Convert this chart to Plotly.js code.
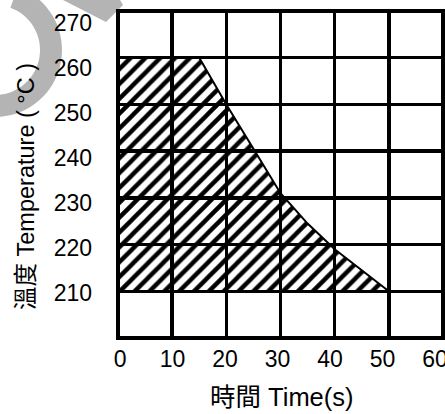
<!DOCTYPE html>
<html>
<head>
<meta charset="utf-8">
<script src="https://cdn.plot.ly/plotly-3.0.1.min.js"></script>
<style>html,body{margin:0;padding:0;background:#fff;}#chart{width:445px;height:414px;}</style>
</head>
<body>
<div id="chart"></div>
<script>
// ---- data ----
const timeS = [0, 0, 15, 20, 25, 30, 35, 40, 45, 50];
const tempC = [210, 260, 260, 250, 240.5, 231, 224.5, 219, 214.5, 210];
const xTicks = [0, 10, 20, 30, 40, 50, 60];
const yTicks = [210, 220, 230, 240, 250, 260, 270];
const xTitle = '時間 Time(s)';
const yTitle = '溫度 Temperature ( °C )';

const W = 445, H = 414;
const M = {l: 118, r: 2, t: 11, b: 76};
const PW = W - M.l - M.r, PH = H - M.t - M.b;
const FONT = 'Arial, "Liberation Sans", "Noto Sans CJK TC", sans-serif';

// pixel -> paper helpers for the decorative grey watermark
const px = x => ((x - M.l) / PW).toFixed(4);
const py = y => ((H - M.b - y) / PH).toFixed(4);
function ringPath(cx, cy, R, r, a0, a1) {
  const pts = [];
  const n = 40;
  for (let i = 0; i <= n; i++) {
    const a = (a0 + (a1 - a0) * i / n) * Math.PI / 180;
    pts.push([cx + R * Math.cos(a), cy + R * Math.sin(a)]);
  }
  for (let i = n; i >= 0; i--) {
    const a = (a0 + (a1 - a0) * i / n) * Math.PI / 180;
    pts.push([cx + r * Math.cos(a), cy + r * Math.sin(a)]);
  }
  return 'M' + pts.map(p => px(p[0]) + ',' + py(p[1])).join('L') + 'Z';
}
function polyPath(pts) {
  return 'M' + pts.map(p => px(p[0]) + ',' + py(p[1])).join('L') + 'Z';
}

const traces = [
  {
    x: timeS, y: tempC, type: 'scatter', mode: 'lines',
    fill: 'toself',
    fillcolor: 'rgba(0,0,0,0)',
    fillpattern: {shape: '/', fgcolor: '#000', bgcolor: 'rgba(0,0,0,0)', size: 10.5, solidity: 0.42},
    line: {color: '#000', width: 2},
    hoverinfo: 'skip', showlegend: false
  },
  {
    x: xTicks, y: yTicks, xaxis: 'x2', yaxis: 'y2', type: 'scatter', mode: 'markers',
    marker: {opacity: 0}, hoverinfo: 'skip', showlegend: false
  }
];

const layout = {
  width: W, height: H,
  margin: M,
  paper_bgcolor: '#fff', plot_bgcolor: '#fff',
  showlegend: false,
  font: {family: FONT, color: '#000'},
  xaxis: {
    range: [0, 60], tickvals: xTicks, showticklabels: false,
    showgrid: true, gridcolor: '#000', gridwidth: 3.5,
    zeroline: false, showline: false, ticks: '', fixedrange: true
  },
  yaxis: {
    range: [200, 270], tickvals: yTicks, showticklabels: false,
    showgrid: true, gridcolor: '#000', gridwidth: 3.5,
    zeroline: false, showline: false, ticks: '', fixedrange: true
  },
  xaxis2: {
    overlaying: 'x', anchor: 'y', side: 'bottom',
    range: [-0.4, 61.5], tickvals: xTicks, ticktext: xTicks.map(String),
    showgrid: false, zeroline: false, showline: false, ticks: '',
    ticklabelstandoff: 5, ticklabeloverflow: 'allow',
    tickfont: {family: FONT, size: 23, color: '#000'}
  },
  yaxis2: {
    overlaying: 'y', anchor: 'x', side: 'left',
    range: [200.03, 272.62], tickvals: yTicks, ticktext: yTicks.map(String),
    showgrid: false, zeroline: false, showline: false, ticks: '',
    ticklabelstandoff: 25, ticklabeloverflow: 'allow',
    tickfont: {family: FONT, size: 23, color: '#000'}
  },
  annotations: [
    {text: xTitle, xref: 'paper', yref: 'paper', x: (282 - M.l) / PW, y: (H - M.b - 397) / PH,
     xanchor: 'center', yanchor: 'middle', showarrow: false,
     font: {family: FONT, size: 25.5, color: '#000'}},
    {text: yTitle, xref: 'paper', yref: 'paper', x: (26 - M.l) / PW, y: (H - M.b - 187) / PH,
     xanchor: 'center', yanchor: 'middle', textangle: -90, showarrow: false,
     font: {family: FONT, size: 23.5, color: '#000'}}
  ],
  shapes: [
    {type: 'path', xref: 'paper', yref: 'paper', layer: 'below',
     path: ringPath(-5, 50, 67, 45, -70, 120), fillcolor: '#b4b4b4', line: {width: 0}},
    {type: 'path', xref: 'paper', yref: 'paper', layer: 'above',
     path: polyPath([[63, 0], [120, 0], [123, 5], [106, 22]]), fillcolor: '#b4b4b4', line: {width: 0}},
    {type: 'rect', xref: 'paper', yref: 'paper', x0: 0, x1: 1, y0: 0, y1: 1, layer: 'above',
     line: {color: '#000', width: 4}, fillcolor: 'rgba(0,0,0,0)'}
  ]
};

Plotly.newPlot('chart', traces, layout, {displayModeBar: false, staticPlot: true});
</script>
</body>
</html>
